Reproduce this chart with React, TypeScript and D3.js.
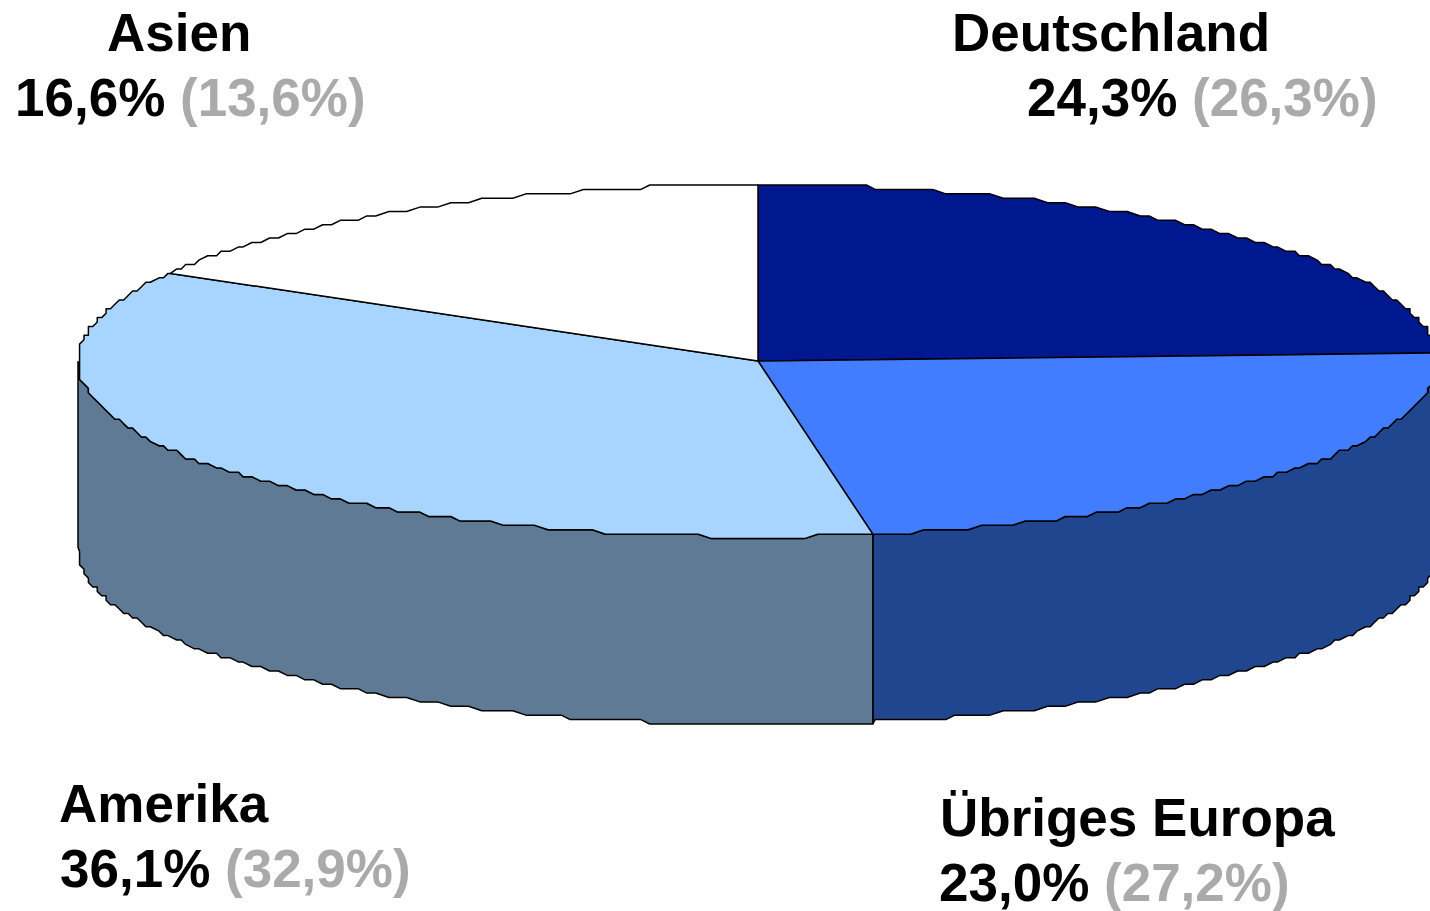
import React from "react";
import * as d3 from "d3";

const regions = ["Deutschland", "Übriges Europa", "Amerika", "Asien"];
const shares = [24.3, 23.0, 36.1, 16.6];
const shareLabels = ["24,3%", "23,0%", "36,1%", "16,6%"];
const priorLabels = ["(26,3%)", "(27,2%)", "(32,9%)", "(13,6%)"];
const topColors = ["#00188f", "#437dff", "#a8d5ff", "#ffffff"];
const sideColors = ["#00188f", "#20468f", "#5f7a94", "#ffffff"];

// label anchors: name line, then value line
const nameX = [952, 940, 59, 107];
const nameY = [51, 836, 821.5, 51];
const valueX = [1027, 939, 60, 15];
const valueY = [115.5, 901, 887, 115.5];

const W = 1430;
const H = 911;
const DEPTH = 187.4;
const GRID = 4.42; // the source was rendered on a coarse grid, edges come out stepped
const STEP = Math.PI / 180;
// lowest stepped level of the top and bottom rim
const TOP_LEVEL = 538.6;
const BOTTOM_LEVEL = 724;

const x = d3.scaleLinear().domain([-1, 1]).range([78, 1438]);
const y = d3.scaleLinear().domain([-1, 1]).range([185, 537]);
const snap = (v: number, level = 0) =>
  level + Math.round((v - level) / GRID) * GRID;

type Pt = [number, number];

// points along a rim between two angles (0 = top, clockwise)
function rim(a0: number, a1: number, depth: number, level: number): Pt[] {
  const rimY = (a: number) => snap(y(-Math.cos(a)) + depth, level);
  const pts: Pt[] = [[x(Math.sin(a0)), rimY(a0)]];
  for (let a = Math.ceil(a0 / STEP + 0.01) * STEP; a < a1 - 0.001; a += STEP) {
    pts.push([snap(x(Math.sin(a))), rimY(a)]);
  }
  pts.push([x(Math.sin(a1)), rimY(a1)]);
  return pts;
}

const line = d3.line<Pt>();

export default function App() {
  const arcs = d3.pie<number>().sort(null)(shares);
  const cx = x(0);
  const cy = y(0);

  return (
    <svg
      width={W}
      height={H}
      viewBox={`0 0 ${W} ${H}`}
      style={{ position: "absolute", left: 0, top: 0, display: "block" }}
    >
      <rect width={W} height={H} fill="#ffffff" />

      {/* wall, only the front half is visible */}
      {arcs.map((d, i) => {
        const a0 = Math.max(d.startAngle, Math.PI / 2);
        const a1 = Math.min(d.endAngle, (Math.PI * 3) / 2);
        if (a1 <= a0) return null;
        const top = rim(a0, a1, 0, TOP_LEVEL);
        const bottom = rim(a0, a1, DEPTH, BOTTOM_LEVEL).reverse();
        return (
          <path
            key={regions[i]}
            d={line([...top, ...bottom]) + "Z"}
            fill={sideColors[i]}
            stroke="#000"
            strokeWidth={1.5}
            strokeLinejoin="round"
          />
        );
      })}

      {/* top face */}
      {arcs.map((d, i) => (
        <path
          key={regions[i]}
          d={line([[cx, cy], ...rim(d.startAngle, d.endAngle, 0, TOP_LEVEL)]) + "Z"}
          fill={topColors[i]}
          stroke="#000"
          strokeWidth={1.5}
          strokeLinejoin="round"
        />
      ))}

      <g fontFamily="'Liberation Sans', Arial, sans-serif" fontWeight="bold" fontSize={53}>
        {regions.map((name, i) => (
          <g key={name}>
            <text x={nameX[i]} y={nameY[i]} fill="#000">
              {name}
            </text>
            <text x={valueX[i]} y={valueY[i]} fill="#000">
              {shareLabels[i]}{" "}
              <tspan fill="#aaaaaa">{priorLabels[i]}</tspan>
            </text>
          </g>
        ))}
      </g>
    </svg>
  );
}
